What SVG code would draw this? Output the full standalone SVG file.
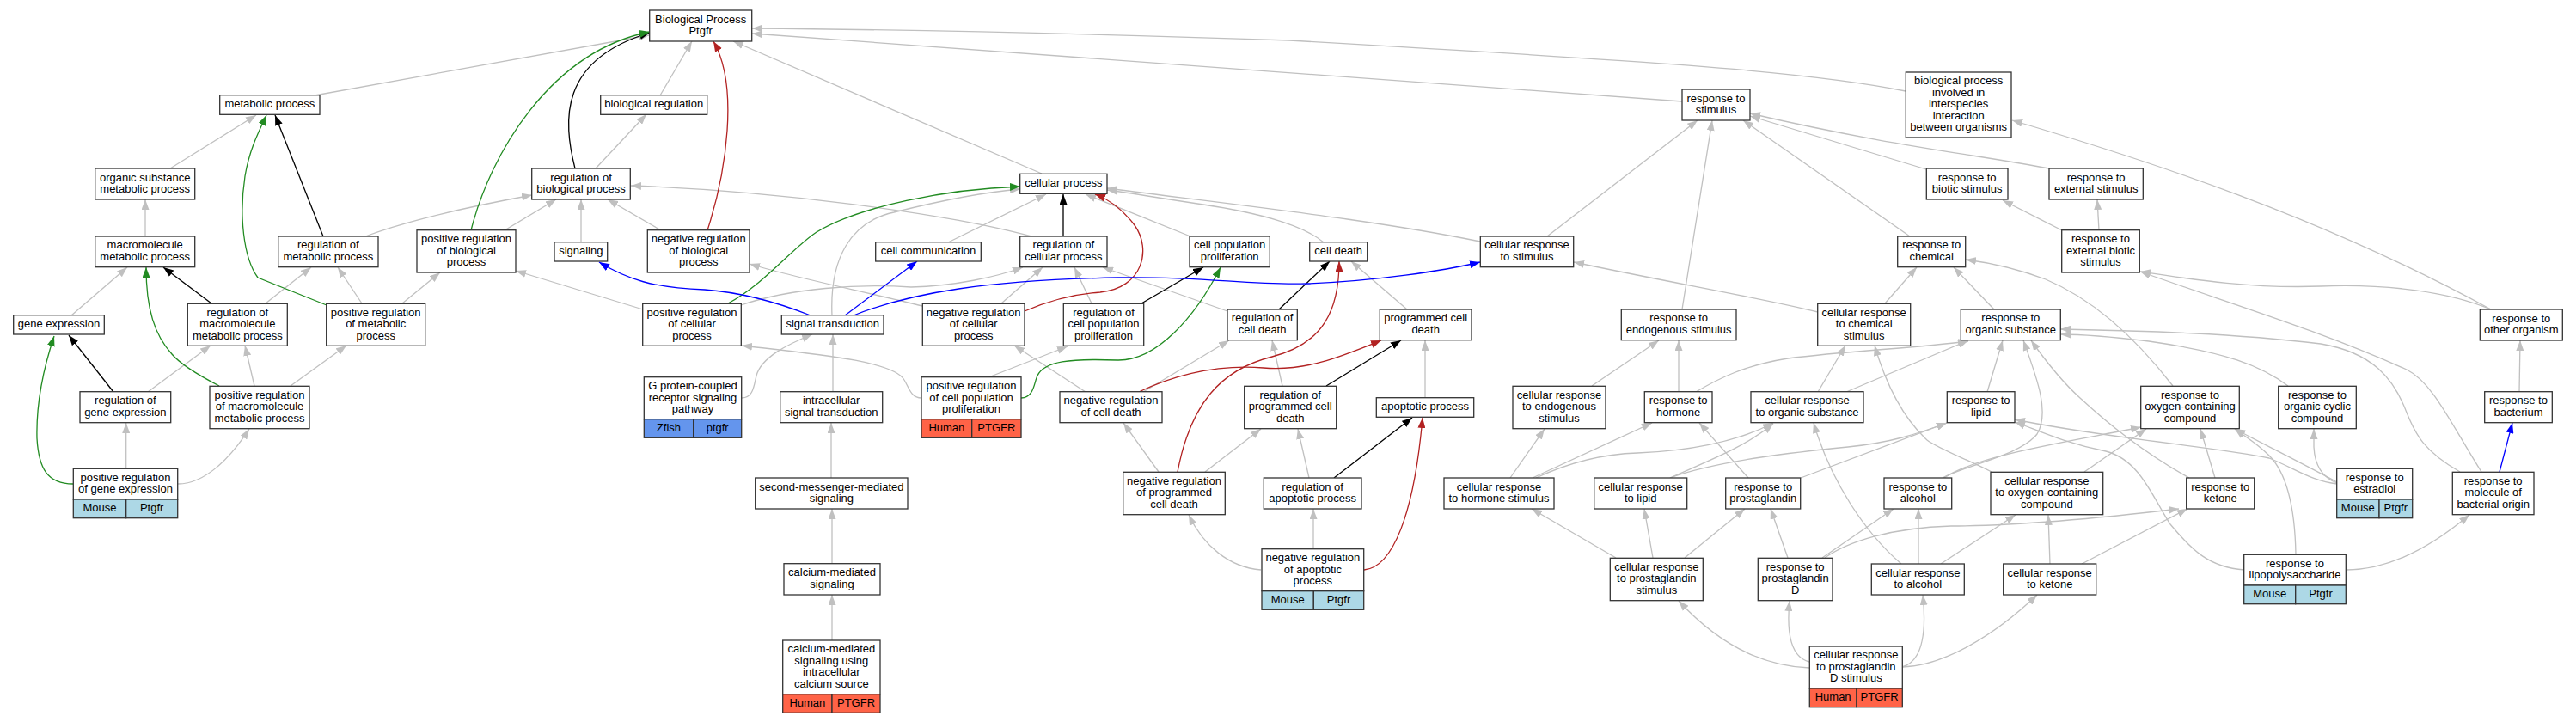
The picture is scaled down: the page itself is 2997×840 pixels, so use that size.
<svg xmlns="http://www.w3.org/2000/svg" width="2997" height="840" viewBox="0 0 2997 840">
<style>
.box{fill:#fff;stroke:#333;stroke-width:1.3}
.t{font-family:"Liberation Sans",Arial,sans-serif;font-size:13px;text-anchor:middle;fill:#000}
.e{fill:none;stroke-width:1.3}
.g{stroke:#c0c0c0;marker-end:url(#ag)}
.k{stroke:#000;marker-end:url(#ak)}
.gr{stroke:#228b22;marker-end:url(#agr)}
.r{stroke:#b22222;marker-end:url(#ar)}
.b{stroke:#0000ff;marker-end:url(#ab)}
.mouse{fill:#add8e6;stroke:#333;stroke-width:1.3}
.human{fill:#ff6347;stroke:#333;stroke-width:1.3}
.zfish{fill:#6495ed;stroke:#333;stroke-width:1.3}
</style>
<defs>
<marker id="ag" viewBox="0 0 12 9" refX="12" refY="4.5" markerWidth="12" markerHeight="9" markerUnits="userSpaceOnUse" orient="auto"><path d="M0,0 L12,4.5 L0,9 z" fill="#c0c0c0"/></marker>
<marker id="ak" viewBox="0 0 12 9" refX="12" refY="4.5" markerWidth="12" markerHeight="9" markerUnits="userSpaceOnUse" orient="auto"><path d="M0,0 L12,4.5 L0,9 z" fill="#000"/></marker>
<marker id="agr" viewBox="0 0 12 9" refX="12" refY="4.5" markerWidth="12" markerHeight="9" markerUnits="userSpaceOnUse" orient="auto"><path d="M0,0 L12,4.5 L0,9 z" fill="#228b22"/></marker>
<marker id="ar" viewBox="0 0 12 9" refX="12" refY="4.5" markerWidth="12" markerHeight="9" markerUnits="userSpaceOnUse" orient="auto"><path d="M0,0 L12,4.5 L0,9 z" fill="#b22222"/></marker>
<marker id="ab" viewBox="0 0 12 9" refX="12" refY="4.5" markerWidth="12" markerHeight="9" markerUnits="userSpaceOnUse" orient="auto"><path d="M0,0 L12,4.5 L0,9 z" fill="#0000ff"/></marker>
</defs>
<rect width="2997" height="840" fill="#fff"/>
<g id="edges">
<path class="e g" d="M366,111 L755,41"/>
<path class="e g" d="M198,196 L298,134"/>
<path class="e g" d="M169,275 L169,232"/>
<path class="e g" d="M83,367 L148,311"/>
<path class="e g" d="M309,353 L362,311"/>
<path class="e g" d="M421,353 L393,311"/>
<path class="e g" d="M468,353 L512,317"/>
<path class="e g" d="M172,456 L245,402"/>
<path class="e g" d="M146.7,545 L146.7,492"/>
<path class="e g" d="M207,563 C240,563 270,530 290,499"/>
<path class="e g" d="M296,449 L285,402"/>
<path class="e g" d="M338,449 L403,402"/>
<path class="e g" d="M425,275 C460,262 520,245 619,227"/>
<path class="e g" d="M587,268 L647,232"/>
<path class="e g" d="M693,196 L752,133"/>
<path class="e g" d="M768,111 L805,48"/>
<path class="e g" d="M769,268 L707,232"/>
<path class="e g" d="M676,282 L676,232"/>
<path class="e g" d="M748,360 L600,315"/>
<path class="e g" d="M862,355 C920,335 1000,330 1060,334 C1110,333 1160,322 1190,311"/>
<path class="e g" d="M1073,356 C1000,338 920,322 872,307"/>
<path class="e g" d="M1200,275 C1100,248 900,222 734,216"/>
<path class="e g" d="M863,463 C876,463 877,450 880,437 C886,415 918,400 945,389"/>
<path class="e g" d="M969,456 L969,389"/>
<path class="e g" d="M967,556 L967,492"/>
<path class="e g" d="M968,656 L968,592"/>
<path class="e g" d="M968,745 L968,692"/>
<path class="e g" d="M968,367 C965,300 990,258 1040,247 C1100,232 1150,223 1187,220"/>
<path class="e g" d="M1072,463 C1060,463 1058,452 1052,442 C1040,420 950,412 863,402"/>
<path class="e g" d="M1150,439 L1242,403"/>
<path class="e g" d="M1165,353 L1213,311"/>
<path class="e g" d="M1270,353 L1250,311"/>
<path class="e g" d="M1103,282 L1217,226"/>
<path class="e g" d="M1385,275 L1263,226"/>
<path class="e g" d="M1428,362 L1283,311"/>
<path class="e g" d="M1540,282 C1520,265 1480,250 1400,238 C1340,229 1305,223 1288,221"/>
<path class="e g" d="M1722,281 C1600,256 1450,240 1288,219"/>
<path class="e g" d="M1212,202 L853,48"/>
<path class="e g" d="M2217,106 C2100,82 1900,70 1500,47 C1200,37 1000,34 875,33"/>
<path class="e g" d="M1957,118 L875,39"/>
<path class="e g" d="M1800,275 L1975,140"/>
<path class="e g" d="M1957,360 L1992,140"/>
<path class="e g" d="M2222,275 L2028,140"/>
<path class="e g" d="M2241,197 L2036,135"/>
<path class="e g" d="M2384,196 C2300,180 2200,170 2036,132"/>
<path class="e g" d="M2898,360 C2700,252 2500,187 2341,140"/>
<path class="e g" d="M2898,360 C2850,340 2780,330 2700,333 C2620,336 2550,325 2490,316"/>
<path class="e g" d="M2399,268 L2330,233"/>
<path class="e g" d="M2442,268 L2440,232"/>
<path class="e g" d="M2320,360 L2273,311"/>
<path class="e g" d="M2193,353 L2230,311"/>
<path class="e g" d="M2115,363 C2050,347 1950,330 1831,305"/>
<path class="e g" d="M1852,449 L1930,396"/>
<path class="e g" d="M1953,456 L1953,396"/>
<path class="e g" d="M1973,456 C2000,440 2030,425 2080,417 C2150,408 2230,405 2290,397"/>
<path class="e g" d="M1783,556 L1922,492"/>
<path class="e g" d="M1757,556 L1797,499"/>
<path class="e g" d="M1787,556 C1830,536 1870,528 1905,527 C1960,525 2020,515 2063,492"/>
<path class="e g" d="M1943,556 C1990,535 2030,520 2063,493"/>
<path class="e g" d="M1943,556 C2000,535 2100,525 2150,520 C2200,515 2230,505 2265,492"/>
<path class="e g" d="M1880,649 L1782,592"/>
<path class="e g" d="M1923,649 L1913,592"/>
<path class="e g" d="M1960,649 L2030,592"/>
<path class="e g" d="M2034,556 L1977,492"/>
<path class="e g" d="M2095,556 L2265,492"/>
<path class="e g" d="M2115,456 L2147,402"/>
<path class="e g" d="M2148,456 L2290,396"/>
<path class="e g" d="M2317,549 C2290,535 2255,522 2242,512 C2215,487 2195,450 2181,402"/>
<path class="e g" d="M2312,456 L2330,396"/>
<path class="e g" d="M2260,556 C2290,540 2350,530 2370,505 C2385,480 2370,440 2354,396"/>
<path class="e g" d="M2262,556 C2300,530 2400,515 2491,497"/>
<path class="e g" d="M2547,556 C2500,530 2460,500 2420,463 C2400,445 2380,420 2363,396"/>
<path class="e g" d="M2719,563 C2690,560 2670,545 2640,533 C2580,520 2450,510 2344,488"/>
<path class="e g" d="M2719,562 C2700,555 2693,540 2692,520 L2692,499"/>
<path class="e g" d="M2719,561 C2680,540 2640,520 2600,499"/>
<path class="e g" d="M2611,663 C2570,660 2550,640 2525,610 C2505,580 2490,535 2450,525 C2400,515 2370,500 2344,491"/>
<path class="e g" d="M2671,645 C2670,590 2660,550 2640,530 C2625,515 2612,508 2600,499"/>
<path class="e g" d="M2730,663 C2780,663 2830,635 2873,599"/>
<path class="e g" d="M2528,449 C2490,400 2440,350 2380,325 C2340,310 2310,305 2287,302"/>
<path class="e g" d="M2662,449 C2630,425 2590,410 2500,397 C2450,391 2420,389 2397,389"/>
<path class="e g" d="M2862,549 C2820,525 2810,505 2800,480 C2785,440 2760,410 2700,400 C2600,388 2500,385 2397,383"/>
<path class="e g" d="M2887,549 C2850,490 2830,445 2800,430 C2700,385 2600,355 2490,316"/>
<path class="e g" d="M2931,456 L2932,396"/>
<path class="e g" d="M2080,649 L2060,592"/>
<path class="e g" d="M2120,649 L2203,592"/>
<path class="e g" d="M2123,649 C2150,630 2200,614 2270,612 C2350,612 2450,602 2535,592"/>
<path class="e g" d="M2232,656 L2232,592"/>
<path class="e g" d="M2212,656 C2170,620 2130,560 2110,492"/>
<path class="e g" d="M2258,656 L2345,599"/>
<path class="e g" d="M2385,656 L2383,599"/>
<path class="e g" d="M2422,656 L2545,592"/>
<path class="e g" d="M2425,549 L2497,499"/>
<path class="e g" d="M2105,777 C2050,775 2000,750 1953,699"/>
<path class="e g" d="M2105,770 C2085,765 2078,740 2082,699"/>
<path class="e g" d="M2213,776 C2235,770 2242,740 2237,692"/>
<path class="e g" d="M2213,776 C2260,775 2320,740 2370,692"/>
<path class="e g" d="M2577,556 L2560,499"/>
<path class="e g" d="M1330,456 L1430,396"/>
<path class="e g" d="M1263,456 L1180,402"/>
<path class="e g" d="M1348,549 L1307,492"/>
<path class="e g" d="M1402,549 L1467,499"/>
<path class="e g" d="M1492,449 L1480,396"/>
<path class="e g" d="M1528,639 L1528,592"/>
<path class="e g" d="M1467,663 C1430,660 1400,635 1383,599"/>
<path class="e g" d="M1523,556 L1510,499"/>
<path class="e g" d="M1658,463 L1658,396"/>
<path class="e g" d="M1637,360 L1572,304"/>
<path class="e k" d="M376,275 L320,134"/>
<path class="e k" d="M246,353 L190,311"/>
<path class="e k" d="M132,456 L80,390"/>
<path class="e k" d="M669,196 C655,140 650,70 756,38"/>
<path class="e k" d="M1237,275 L1237,226"/>
<path class="e k" d="M1328,353 L1400,311"/>
<path class="e k" d="M1488,360 L1547,304"/>
<path class="e k" d="M1543,449 L1630,396"/>
<path class="e k" d="M1552,556 L1643,486"/>
<path class="e gr" d="M380,355 L300,323 C283,300 278,250 285,205 C290,175 300,155 310,134"/>
<path class="e gr" d="M255,449 C230,436 210,424 200,412 C180,390 170,360 170,311"/>
<path class="e gr" d="M85,563 C55,563 45,545 43,510 C42,470 50,430 63,391"/>
<path class="e gr" d="M548,268 C570,180 640,60 756,37"/>
<path class="e gr" d="M847,353 C890,330 920,290 950,270 C1000,240 1100,220 1187,217"/>
<path class="e gr" d="M1188,463 C1203,463 1203,445 1207,437 C1215,420 1245,417 1300,419 C1345,420 1390,370 1420,311"/>
<path class="e r" d="M823,268 C845,200 860,100 830,48"/>
<path class="e r" d="M1192,362 C1220,350 1250,342 1280,340 C1330,335 1340,290 1320,262 C1305,242 1290,232 1274,226"/>
<path class="e r" d="M1325,456 C1380,430 1430,425 1470,428 C1520,432 1560,415 1607,396"/>
<path class="e r" d="M1370,549 C1385,470 1420,430 1480,415 C1540,400 1558,360 1558,304"/>
<path class="e r" d="M1587,663 C1620,660 1645,600 1655,486"/>
<path class="e b" d="M943,367 C900,350 860,340 820,337 C760,335 730,325 697,305"/>
<path class="e b" d="M983,367 L1067,304"/>
<path class="e b" d="M993,367 C1060,340 1150,326 1300,323 C1400,321 1450,332 1520,330 C1600,327 1680,315 1722,305"/>
<path class="e b" d="M2908,549 L2923,492"/>
</g>
<g id="n_BP"><rect class="box" x="755.7" y="12" width="119" height="36"/><text class="t" y="26.5"><tspan x="815.2">Biological Process</tspan><tspan x="815.2" dy="13.5">Ptgfr</tspan></text></g>
<g id="n_MP"><rect class="box" x="255.7" y="110.7" width="116.3" height="22.6"/><text class="t" x="313.8" y="125.3">metabolic process</text></g>
<g id="n_BR"><rect class="box" x="698.7" y="110.7" width="124" height="22.6"/><text class="t" x="760.7" y="125.3">biological regulation</text></g>
<g id="n_OSMP"><rect class="box" x="110.7" y="196" width="116" height="36"/><text class="t" y="210.5"><tspan x="168.7">organic substance</tspan><tspan x="168.7" dy="13.5">metabolic process</tspan></text></g>
<g id="n_RBP"><rect class="box" x="618.7" y="196" width="114.6" height="36"/><text class="t" y="210.5"><tspan x="676">regulation of</tspan><tspan x="676" dy="13.5">biological process</tspan></text></g>
<g id="n_MMP"><rect class="box" x="110.7" y="275" width="116" height="35.7"/><text class="t" y="289.4"><tspan x="168.7">macromolecule</tspan><tspan x="168.7" dy="13.5">metabolic process</tspan></text></g>
<g id="n_RMP"><rect class="box" x="323.7" y="275" width="116.3" height="35.7"/><text class="t" y="289.4"><tspan x="381.8">regulation of</tspan><tspan x="381.8" dy="13.5">metabolic process</tspan></text></g>
<g id="n_PRBP"><rect class="box" x="485" y="267.7" width="115" height="49.3"/><text class="t" y="282.1"><tspan x="542.5">positive regulation</tspan><tspan x="542.5" dy="13.5">of biological</tspan><tspan x="542.5" dy="13.5">process</tspan></text></g>
<g id="n_SIG"><rect class="box" x="645" y="281.7" width="61.7" height="22.3"/><text class="t" x="675.8" y="296.1">signaling</text></g>
<g id="n_NRBP"><rect class="box" x="753.3" y="267.7" width="118.7" height="49.3"/><text class="t" y="282.1"><tspan x="812.7">negative regulation</tspan><tspan x="812.7" dy="13.5">of biological</tspan><tspan x="812.7" dy="13.5">process</tspan></text></g>
<g id="n_GE"><rect class="box" x="15.7" y="366.7" width="105.6" height="22.3"/><text class="t" x="68.5" y="381.1">gene expression</text></g>
<g id="n_RMMP"><rect class="box" x="218.3" y="353.3" width="116" height="49"/><text class="t" y="367.6"><tspan x="276.3">regulation of</tspan><tspan x="276.3" dy="13.5">macromolecule</tspan><tspan x="276.3" dy="13.5">metabolic process</tspan></text></g>
<g id="n_PRMP"><rect class="box" x="379.7" y="353.3" width="115" height="49"/><text class="t" y="367.6"><tspan x="437.2">positive regulation</tspan><tspan x="437.2" dy="13.5">of metabolic</tspan><tspan x="437.2" dy="13.5">process</tspan></text></g>
<g id="n_PRCP"><rect class="box" x="747.7" y="353.3" width="114.6" height="49"/><text class="t" y="367.6"><tspan x="805">positive regulation</tspan><tspan x="805" dy="13.5">of cellular</tspan><tspan x="805" dy="13.5">process</tspan></text></g>
<g id="n_ST"><rect class="box" x="909.3" y="366.7" width="118.7" height="22.3"/><text class="t" x="968.7" y="381.1">signal transduction</text></g>
<g id="n_RGE"><rect class="box" x="93" y="455.7" width="105.7" height="36"/><text class="t" y="470.2"><tspan x="145.85">regulation of</tspan><tspan x="145.85" dy="13.5">gene expression</tspan></text></g>
<g id="n_PRMMP"><rect class="box" x="244" y="449.3" width="116" height="49.4"/><text class="t" y="463.8"><tspan x="302">positive regulation</tspan><tspan x="302" dy="13.5">of macromolecule</tspan><tspan x="302" dy="13.5">metabolic process</tspan></text></g>
<g id="n_PRGE"><rect class="box" x="85.3" y="545.3" width="121.4" height="35.7"/><rect class="mouse" x="85.3" y="581" width="61.4" height="21.7"/><rect class="mouse" x="146.7" y="581" width="60" height="21.7"/><text class="t" y="559.7"><tspan x="146">positive regulation</tspan><tspan x="146" dy="13.5">of gene expression</tspan></text><text class="t" x="116" y="595.1">Mouse</text><text class="t" x="176.7" y="595.1">Ptgfr</text></g>
<g id="n_GPCR"><rect class="box" x="749.3" y="438.7" width="113.4" height="49"/><rect class="zfish" x="749.3" y="487.7" width="57.4" height="21.6"/><rect class="zfish" x="806.7" y="487.7" width="56" height="21.6"/><text class="t" y="453"><tspan x="806">G protein-coupled</tspan><tspan x="806" dy="13.5">receptor signaling</tspan><tspan x="806" dy="13.5">pathway</tspan></text><text class="t" x="778" y="501.8">Zfish</text><text class="t" x="834.7" y="501.8">ptgfr</text></g>
<g id="n_IST"><rect class="box" x="907.7" y="455.7" width="119" height="36"/><text class="t" y="470.2"><tspan x="967.2">intracellular</tspan><tspan x="967.2" dy="13.5">signal transduction</tspan></text></g>
<g id="n_SMMS"><rect class="box" x="878.7" y="556" width="177.3" height="36"/><text class="t" y="570.5"><tspan x="967.35">second-messenger-mediated</tspan><tspan x="967.35" dy="13.5">signaling</tspan></text></g>
<g id="n_CMS"><rect class="box" x="912" y="655.7" width="112" height="36.3"/><text class="t" y="670.4"><tspan x="968">calcium-mediated</tspan><tspan x="968" dy="13.5">signaling</tspan></text></g>
<g id="n_CMSI"><rect class="box" x="910.7" y="745" width="113.3" height="62.7"/><rect class="human" x="910.7" y="807.7" width="57.3" height="21.6"/><rect class="human" x="968" y="807.7" width="56" height="21.6"/><text class="t" y="759.4"><tspan x="967.35">calcium-mediated</tspan><tspan x="967.35" dy="13.5">signaling using</tspan><tspan x="967.35" dy="13.5">intracellular</tspan><tspan x="967.35" dy="13.5">calcium source</tspan></text><text class="t" x="939.35" y="821.8">Human</text><text class="t" x="996" y="821.8">PTGFR</text></g>
<g id="n_CP"><rect class="box" x="1186.7" y="202.3" width="101.3" height="23"/><text class="t" x="1237.35" y="217.1">cellular process</text></g>
<g id="n_CC"><rect class="box" x="1018.7" y="281.7" width="122.6" height="22.3"/><text class="t" x="1080" y="296.1">cell communication</text></g>
<g id="n_RCP"><rect class="box" x="1186.7" y="275" width="101.3" height="35.7"/><text class="t" y="289.4"><tspan x="1237.35">regulation of</tspan><tspan x="1237.35" dy="13.5">cellular process</tspan></text></g>
<g id="n_CPP"><rect class="box" x="1384" y="275" width="93.3" height="35.7"/><text class="t" y="289.4"><tspan x="1430.65">cell population</tspan><tspan x="1430.65" dy="13.5">proliferation</tspan></text></g>
<g id="n_NRCP"><rect class="box" x="1073.3" y="353.3" width="118.7" height="49"/><text class="t" y="367.6"><tspan x="1132.65">negative regulation</tspan><tspan x="1132.65" dy="13.5">of cellular</tspan><tspan x="1132.65" dy="13.5">process</tspan></text></g>
<g id="n_RCPP"><rect class="box" x="1237.3" y="353.3" width="93.4" height="49"/><text class="t" y="367.6"><tspan x="1284">regulation of</tspan><tspan x="1284" dy="13.5">cell population</tspan><tspan x="1284" dy="13.5">proliferation</tspan></text></g>
<g id="n_RCD"><rect class="box" x="1428" y="360" width="81.3" height="35.7"/><text class="t" y="374.4"><tspan x="1468.65">regulation of</tspan><tspan x="1468.65" dy="13.5">cell death</tspan></text></g>
<g id="n_PRCPP"><rect class="box" x="1072" y="438.7" width="116" height="49"/><rect class="human" x="1072" y="487.7" width="58.7" height="21.6"/><rect class="human" x="1130.7" y="487.7" width="57.3" height="21.6"/><text class="t" y="453"><tspan x="1130">positive regulation</tspan><tspan x="1130" dy="13.5">of cell population</tspan><tspan x="1130" dy="13.5">proliferation</tspan></text><text class="t" x="1101.35" y="501.8">Human</text><text class="t" x="1159.35" y="501.8">PTGFR</text></g>
<g id="n_NRCD"><rect class="box" x="1233" y="455.7" width="119" height="36"/><text class="t" y="470.2"><tspan x="1292.5">negative regulation</tspan><tspan x="1292.5" dy="13.5">of cell death</tspan></text></g>
<g id="n_NRPCD"><rect class="box" x="1306.7" y="549.3" width="118.6" height="49.4"/><text class="t" y="563.8"><tspan x="1366">negative regulation</tspan><tspan x="1366" dy="13.5">of programmed</tspan><tspan x="1366" dy="13.5">cell death</tspan></text></g>
<g id="n_RPCD"><rect class="box" x="1447.7" y="449.3" width="107" height="49.4"/><text class="t" y="463.8"><tspan x="1501.2">regulation of</tspan><tspan x="1501.2" dy="13.5">programmed cell</tspan><tspan x="1501.2" dy="13.5">death</tspan></text></g>
<g id="n_RAP"><rect class="box" x="1470.3" y="556" width="113.7" height="36"/><text class="t" y="570.5"><tspan x="1527.15">regulation of</tspan><tspan x="1527.15" dy="13.5">apoptotic process</tspan></text></g>
<g id="n_NRAP"><rect class="box" x="1468" y="638.7" width="118.7" height="49"/><rect class="mouse" x="1468" y="687.7" width="60.3" height="21.6"/><rect class="mouse" x="1528.3" y="687.7" width="58.4" height="21.6"/><text class="t" y="653"><tspan x="1527.35">negative regulation</tspan><tspan x="1527.35" dy="13.5">of apoptotic</tspan><tspan x="1527.35" dy="13.5">process</tspan></text><text class="t" x="1498.15" y="701.8">Mouse</text><text class="t" x="1557.5" y="701.8">Ptgfr</text></g>
<g id="n_CD"><rect class="box" x="1523.7" y="281.7" width="67" height="22.3"/><text class="t" x="1557.2" y="296.1">cell death</text></g>
<g id="n_CRS"><rect class="box" x="1722.3" y="275" width="108.4" height="35.7"/><text class="t" y="289.4"><tspan x="1776.5">cellular response</tspan><tspan x="1776.5" dy="13.5">to stimulus</tspan></text></g>
<g id="n_PCD"><rect class="box" x="1605.3" y="360" width="106.7" height="35.7"/><text class="t" y="374.4"><tspan x="1658.65">programmed cell</tspan><tspan x="1658.65" dy="13.5">death</tspan></text></g>
<g id="n_AP"><rect class="box" x="1601.3" y="462.7" width="113.4" height="22.6"/><text class="t" x="1658" y="477.3">apoptotic process</text></g>
<g id="n_RS"><rect class="box" x="1957" y="104" width="79" height="36"/><text class="t" y="118.5"><tspan x="1996.5">response to</tspan><tspan x="1996.5" dy="13.5">stimulus</tspan></text></g>
<g id="n_RES"><rect class="box" x="1886.3" y="360" width="133.7" height="35.7"/><text class="t" y="374.4"><tspan x="1953.15">response to</tspan><tspan x="1953.15" dy="13.5">endogenous stimulus</tspan></text></g>
<g id="n_CRES"><rect class="box" x="1760" y="449.3" width="108" height="49.4"/><text class="t" y="463.8"><tspan x="1814">cellular response</tspan><tspan x="1814" dy="13.5">to endogenous</tspan><tspan x="1814" dy="13.5">stimulus</tspan></text></g>
<g id="n_RH"><rect class="box" x="1913.3" y="455.7" width="78.7" height="36"/><text class="t" y="470.2"><tspan x="1952.65">response to</tspan><tspan x="1952.65" dy="13.5">hormone</tspan></text></g>
<g id="n_CRHS"><rect class="box" x="1680" y="556" width="128" height="36"/><text class="t" y="570.5"><tspan x="1744">cellular response</tspan><tspan x="1744" dy="13.5">to hormone stimulus</tspan></text></g>
<g id="n_CRL"><rect class="box" x="1854.7" y="556" width="108" height="36"/><text class="t" y="570.5"><tspan x="1908.7">cellular response</tspan><tspan x="1908.7" dy="13.5">to lipid</tspan></text></g>
<g id="n_CRPS"><rect class="box" x="1873.3" y="649.3" width="108" height="49.4"/><text class="t" y="663.8"><tspan x="1927.3">cellular response</tspan><tspan x="1927.3" dy="13.5">to prostaglandin</tspan><tspan x="1927.3" dy="13.5">stimulus</tspan></text></g>
<g id="n_BPII"><rect class="box" x="2217.3" y="84" width="122.7" height="76"/><text class="t" y="98.3"><tspan x="2278.65">biological process</tspan><tspan x="2278.65" dy="13.5">involved in</tspan><tspan x="2278.65" dy="13.5">interspecies</tspan><tspan x="2278.65" dy="13.5">interaction</tspan><tspan x="2278.65" dy="13.5">between organisms</tspan></text></g>
<g id="n_RBS"><rect class="box" x="2241.3" y="196" width="94.7" height="36"/><text class="t" y="210.5"><tspan x="2288.65">response to</tspan><tspan x="2288.65" dy="13.5">biotic stimulus</tspan></text></g>
<g id="n_RExS"><rect class="box" x="2384" y="196" width="109.3" height="36"/><text class="t" y="210.5"><tspan x="2438.65">response to</tspan><tspan x="2438.65" dy="13.5">external stimulus</tspan></text></g>
<g id="n_RC"><rect class="box" x="2207.7" y="275" width="79" height="35.7"/><text class="t" y="289.4"><tspan x="2247.2">response to</tspan><tspan x="2247.2" dy="13.5">chemical</tspan></text></g>
<g id="n_REBS"><rect class="box" x="2398.7" y="267.7" width="90.6" height="49.3"/><text class="t" y="282.1"><tspan x="2444">response to</tspan><tspan x="2444" dy="13.5">external biotic</tspan><tspan x="2444" dy="13.5">stimulus</tspan></text></g>
<g id="n_CRCS"><rect class="box" x="2114.7" y="353.3" width="108" height="49"/><text class="t" y="367.6"><tspan x="2168.7">cellular response</tspan><tspan x="2168.7" dy="13.5">to chemical</tspan><tspan x="2168.7" dy="13.5">stimulus</tspan></text></g>
<g id="n_ROS"><rect class="box" x="2281.3" y="360" width="116" height="35.7"/><text class="t" y="374.4"><tspan x="2339.3">response to</tspan><tspan x="2339.3" dy="13.5">organic substance</tspan></text></g>
<g id="n_CROS"><rect class="box" x="2037" y="455.7" width="131" height="36"/><text class="t" y="470.2"><tspan x="2102.5">cellular response</tspan><tspan x="2102.5" dy="13.5">to organic substance</tspan></text></g>
<g id="n_RL"><rect class="box" x="2265.3" y="455.7" width="78.7" height="36"/><text class="t" y="470.2"><tspan x="2304.65">response to</tspan><tspan x="2304.65" dy="13.5">lipid</tspan></text></g>
<g id="n_ROCC"><rect class="box" x="2490.7" y="449.3" width="114.6" height="49.4"/><text class="t" y="463.8"><tspan x="2548">response to</tspan><tspan x="2548" dy="13.5">oxygen-containing</tspan><tspan x="2548" dy="13.5">compound</tspan></text></g>
<g id="n_RP"><rect class="box" x="2007.7" y="556" width="87" height="36"/><text class="t" y="570.5"><tspan x="2051.2">response to</tspan><tspan x="2051.2" dy="13.5">prostaglandin</tspan></text></g>
<g id="n_RA"><rect class="box" x="2192" y="556" width="78.7" height="36"/><text class="t" y="570.5"><tspan x="2231.35">response to</tspan><tspan x="2231.35" dy="13.5">alcohol</tspan></text></g>
<g id="n_CROCC"><rect class="box" x="2316" y="549.3" width="130.7" height="49.4"/><text class="t" y="563.8"><tspan x="2381.35">cellular response</tspan><tspan x="2381.35" dy="13.5">to oxygen-containing</tspan><tspan x="2381.35" dy="13.5">compound</tspan></text></g>
<g id="n_RPD"><rect class="box" x="2045.3" y="649.3" width="86.7" height="49.4"/><text class="t" y="663.8"><tspan x="2088.65">response to</tspan><tspan x="2088.65" dy="13.5">prostaglandin</tspan><tspan x="2088.65" dy="13.5">D</tspan></text></g>
<g id="n_CRA"><rect class="box" x="2177.3" y="656" width="108" height="36"/><text class="t" y="670.5"><tspan x="2231.3">cellular response</tspan><tspan x="2231.3" dy="13.5">to alcohol</tspan></text></g>
<g id="n_CRK"><rect class="box" x="2330.7" y="656" width="108" height="36"/><text class="t" y="670.5"><tspan x="2384.7">cellular response</tspan><tspan x="2384.7" dy="13.5">to ketone</tspan></text></g>
<g id="n_CRPDS"><rect class="box" x="2105.3" y="752" width="108" height="49"/><rect class="human" x="2105.3" y="801" width="54.7" height="21.7"/><rect class="human" x="2160" y="801" width="53.3" height="21.7"/><text class="t" y="766.3"><tspan x="2159.3">cellular response</tspan><tspan x="2159.3" dy="13.5">to prostaglandin</tspan><tspan x="2159.3" dy="13.5">D stimulus</tspan></text><text class="t" x="2132.65" y="815.1">Human</text><text class="t" x="2186.65" y="815.1">PTGFR</text></g>
<g id="n_ROO"><rect class="box" x="2885.3" y="360" width="96" height="36"/><text class="t" y="374.5"><tspan x="2933.3">response to</tspan><tspan x="2933.3" dy="13.5">other organism</tspan></text></g>
<g id="n_ROrCC"><rect class="box" x="2650.7" y="449.3" width="90.6" height="49.4"/><text class="t" y="463.8"><tspan x="2696">response to</tspan><tspan x="2696" dy="13.5">organic cyclic</tspan><tspan x="2696" dy="13.5">compound</tspan></text></g>
<g id="n_RB"><rect class="box" x="2890.7" y="455.7" width="78.6" height="36"/><text class="t" y="470.2"><tspan x="2930">response to</tspan><tspan x="2930" dy="13.5">bacterium</tspan></text></g>
<g id="n_RK"><rect class="box" x="2543.7" y="556" width="79" height="36"/><text class="t" y="570.5"><tspan x="2583.2">response to</tspan><tspan x="2583.2" dy="13.5">ketone</tspan></text></g>
<g id="n_RE"><rect class="box" x="2718.7" y="545.3" width="88" height="35.7"/><rect class="mouse" x="2718.7" y="581" width="49.3" height="21.7"/><rect class="mouse" x="2768" y="581" width="38.7" height="21.7"/><text class="t" y="559.7"><tspan x="2762.7">response to</tspan><tspan x="2762.7" dy="13.5">estradiol</tspan></text><text class="t" x="2743.35" y="595.1">Mouse</text><text class="t" x="2787.35" y="595.1">Ptgfr</text></g>
<g id="n_RMBO"><rect class="box" x="2853.3" y="549.3" width="94.7" height="49.4"/><text class="t" y="563.8"><tspan x="2900.65">response to</tspan><tspan x="2900.65" dy="13.5">molecule of</tspan><tspan x="2900.65" dy="13.5">bacterial origin</tspan></text></g>
<g id="n_RLPS"><rect class="box" x="2610.7" y="645.3" width="118.6" height="35.7"/><rect class="mouse" x="2610.7" y="681" width="60" height="21.7"/><rect class="mouse" x="2670.7" y="681" width="58.6" height="21.7"/><text class="t" y="659.7"><tspan x="2670">response to</tspan><tspan x="2670" dy="13.5">lipopolysaccharide</tspan></text><text class="t" x="2640.7" y="695.1">Mouse</text><text class="t" x="2700" y="695.1">Ptgfr</text></g>
</svg>
